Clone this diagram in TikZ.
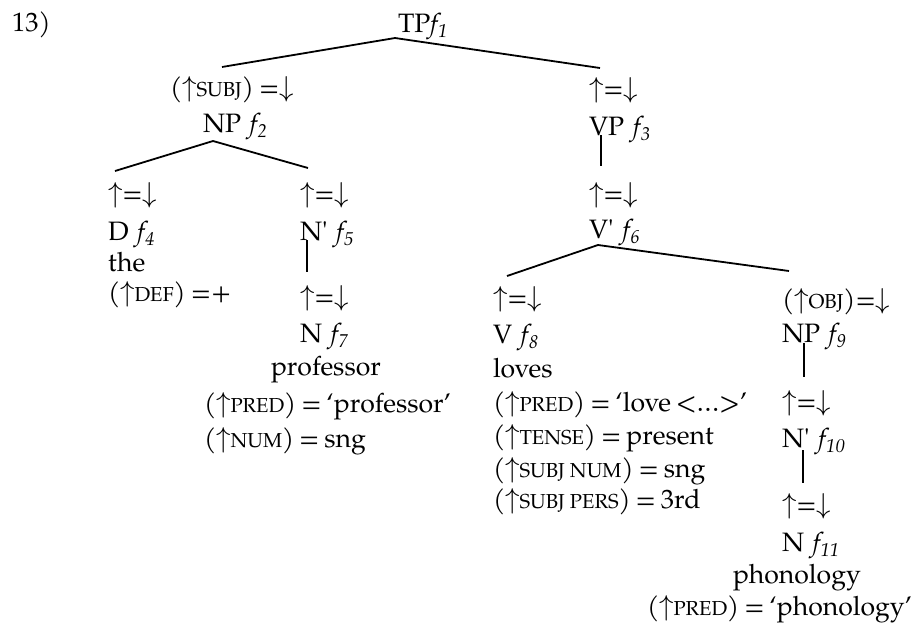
\documentclass[tikz,border=0pt]{standalone}
\usepackage{fontspec}
\setmainfont{TeX Gyre Pagella}[WordSpace=0.75]
\newcommand{\fsub}[1]{\textit{f\kern0.2pt\raisebox{-0.4ex}{\fontsize{9.3}{10}\selectfont #1}}}
\newcommand{\ff}[1]{\hskip0.33em\fsub{#1}}
\newcommand{\sck}[1]{{\fontsize{10.1}{12}\selectfont #1}}
\newcommand{\upa}{$\uparrow$}
\newcommand{\dna}{$\downarrow$}
\newcommand{\eqd}{$\uparrow$=$\downarrow$}
\newcommand{\xbar}{\textquotesingle}
\begin{document}
\begin{tikzpicture}[x=0.5pt,y=-0.5pt,
  lab/.style={anchor=base west,inner sep=0pt,outer sep=0pt,font=\fontsize{13.3}{15}\selectfont},
  branch/.style={line width=0.9pt}]
\useasboundingbox (0,0) rectangle (912,627);
% labels
\node[lab] (ex) at (12,31) {13)};
\node[lab] (tp) at (398,32) {TP\fsub{1}};
% subject NP
\node[lab] (subjeq) at (170,96) {(\upa\sck{SUBJ}) =\dna};
\node[lab] (np2) at (203,132) {NP\ff{2}};
\node[lab] (deq) at (108,202) {\eqd};
\node[lab] (d4) at (108,240) {D\ff{4}};
\node[lab] (the) at (108,271) {the};
\node[lab] (def) at (108,301) {\smash{(\upa\sck{DEF}) =+}};
\node[lab] (n5eq) at (300,202) {\eqd};
\node[lab] (n5) at (300,240) {N\xbar\ff{5}};
\node[lab] (n7eq) at (300,305) {\eqd};
\node[lab] (n7) at (300,342) {N\ff{7}};
\node[lab] (prof) at (271,375) {professor};
\node[lab] (profpred) at (204,412) {(\upa\sck{PRED}) = ‘professor’};
\node[lab] (profnum) at (204,447) {(\upa\sck{NUM}) = sng};
% VP
\node[lab] (vpeq) at (589,97) {\eqd};
\node[lab] (vp3) at (589,135) {VP\ff{3}};
\node[lab] (v6eq) at (589,202) {\eqd};
\node[lab] (v6) at (589,238) {V\xbar\ff{6}};
\node[lab] (v8eq) at (493,306) {\eqd};
\node[lab] (v8) at (493,343) {V\ff{8}};
\node[lab] (loves) at (493,377) {loves};
\node[lab] (vpred) at (493,411) {(\upa\sck{PRED}) = ‘love <…>’};
\node[lab] (vtense) at (493,444) {(\upa\sck{TENSE}) = present};
\node[lab] (vnum) at (493,477) {(\upa\sck{SUBJ\hskip0.25em NUM}) = sng};
\node[lab] (vpers) at (493,508) {(\upa\sck{SUBJ\hskip0.25em PERS}) = 3rd};
% object NP
\node[lab] (objeq) at (782,308) {(\upa\sck{OBJ})=\dna};
\node[lab] (np9) at (782,342) {NP\ff{9}};
\node[lab] (n10eq) at (782,410) {\eqd};
\node[lab] (n10) at (782,447) {N\xbar\ff{10}};
\node[lab] (n11eq) at (782,513) {\eqd};
\node[lab] (n11) at (782,551) {N\ff{11}};
\node[lab] (phon) at (733,583) {phonology};
\node[lab] (phonpred) at (647,615) {(\upa\sck{PRED}) = ‘phonology’};
% branch points
\coordinate (tpB) at (395,38);
\coordinate (subjT) at (222,67);
\coordinate (vpT) at (600,68);
\coordinate (np2B) at (213,141);
\coordinate (dT) at (115,171);
\coordinate (n5T) at (308,168);
\coordinate (n5B) at (307,240);
\coordinate (n7T) at (307,272);
\coordinate (vp3B) at (601,135);
\coordinate (v6T) at (601,166);
\coordinate (v6B) at (598,245);
\coordinate (v8T) at (507,276);
\coordinate (objT) at (789,271);
\coordinate (np9B) at (804,343);
\coordinate (n10T) at (804,377);
\coordinate (n10B) at (803,450);
\coordinate (n11T) at (803,483);
% branches
\draw[branch] (subjT) -- (tpB) -- (vpT);
\draw[branch] (dT) -- (np2B) -- (n5T);
\draw[branch] (n5B) -- (n7T);
\draw[branch] (vp3B) -- (v6T);
\draw[branch] (v8T) -- (v6B) -- (objT);
\draw[branch] (np9B) -- (n10T);
\draw[branch] (n10B) -- (n11T);
\end{tikzpicture}
\end{document}
